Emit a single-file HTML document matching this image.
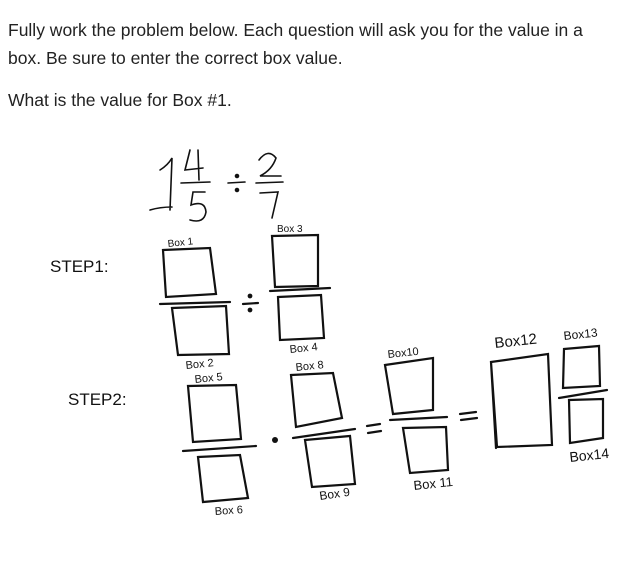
<!DOCTYPE html>
<html><head><style>
body{margin:0;background:#fff;width:630px;height:570px;overflow:hidden;font-family:"Liberation Sans",sans-serif;}
.t{position:absolute;left:8px;font-size:17.5px;color:#222;line-height:28px;white-space:nowrap;}
</style></head><body>
<div class="t" style="top:16px">Fully work the problem below. Each question will ask you for the value in a<br>box. Be sure to enter the correct box value.</div>
<div class="t" style="top:86px">What is the value for Box #1.</div>
<svg width="630" height="570" style="position:absolute;left:0;top:0" fill="none" stroke="#111" stroke-width="2.2" stroke-linecap="round">
<g font-family="Liberation Sans,sans-serif" fill="#111" stroke="none">
<text x="50" y="272" font-size="17">STEP1:</text>
<text x="68" y="405" font-size="17">STEP2:</text>
<text x="168" y="247" font-size="10" transform="rotate(-6 168 247)">Box 1</text>
<text x="277" y="232" font-size="10">Box 3</text>
<text x="186" y="369" font-size="11" transform="rotate(-6 186 369)">Box 2</text>
<text x="290" y="353" font-size="11" transform="rotate(-6 290 353)">Box 4</text>
<text x="195" y="383" font-size="11" transform="rotate(-6 195 383)">Box 5</text>
<text x="296" y="371" font-size="11" transform="rotate(-6 296 371)">Box 8</text>
<text x="388" y="358" font-size="11" transform="rotate(-6 388 358)">Box10</text>
<text x="495" y="348" font-size="15" transform="rotate(-6 495 348)">Box12</text>
<text x="564" y="340" font-size="12" transform="rotate(-6 564 340)">Box13</text>
<text x="570" y="462" font-size="14" transform="rotate(-6 570 462)">Box14</text>
<text x="414" y="490" font-size="13" transform="rotate(-6 414 490)">Box 11</text>
<text x="320" y="500" font-size="12" transform="rotate(-8 320 500)">Box 9</text>
<text x="215" y="515" font-size="11" transform="rotate(-4 215 515)">Box 6</text>
</g>
<path d="M160 170 Q168 165 172 158 L170 210 M150 210 Q160 207 172 207" stroke-width="1.6"/>
<path d="M190 150 L185 170 L203 168 M198 150 L199 180" stroke-width="1.6"/>
<path d="M181 183 L210 182" stroke-width="1.6"/>
<path d="M205 192 L193 192 L191 205 Q205 200 206 212 Q204 224 190 220" stroke-width="1.6"/>
<path d="M228 183 L245 182" stroke-width="1.6"/><circle cx="237" cy="176" r="1.2" fill="#111"/><circle cx="237" cy="190" r="1.2" fill="#111"/>
<path d="M259 160 Q268 148 276 158 Q272 170 260 176 L281 176" stroke-width="1.6"/>
<path d="M256 183 L283 182" stroke-width="1.6"/>
<path d="M260 193 L278 192 L272 218" stroke-width="1.6"/>
<path d="M163 250 L210 248 L216 294 L166 297 Z"/>
<path d="M160 304 L230 302"/>
<path d="M172 308 L226 306 L229 354 L178 355 Z"/>
<path d="M243 304 L258 303"/><circle cx="250" cy="296" r="1.3" fill="#111"/><circle cx="250" cy="310" r="1.3" fill="#111"/>
<path d="M272 236 L318 235 L318 286 L275 287 Z"/>
<path d="M270 291 L330 288"/>
<path d="M278 297 L321 295 L324 338 L280 340 Z"/>
<path d="M188 386 L236 385 L241 439 L193 442 Z"/>
<path d="M183 451 L256 446"/>
<path d="M198 457 L240 455 L248 498 L203 502 Z"/>
<circle cx="275" cy="440" r="3" fill="#111" stroke="none"/>
<path d="M291 375 L333 373 L342 418 L296 427 Z"/>
<path d="M293 438 L355 429"/>
<path d="M305 440 L350 436 L355 484 L312 487 Z"/>
<path d="M367 426 L380 424 M368 433 L381 431"/>
<path d="M385 365 L433 358 L433 410 L393 414 Z"/>
<path d="M390 420 L447 417"/>
<path d="M403 428 L446 427 L448 470 L410 473 Z"/>
<path d="M460 414 L476 412 M461 420 L477 418"/>
<path d="M491 362 L548 354 L552 445 L497 447 Z M491 362 L496 448"/>
<path d="M564 349 L599 346 L600 386 L563 388 Z"/>
<path d="M559 398 L607 390"/>
<path d="M569 400 L603 399 L603 438 L570 443 Z"/>
</svg>
</body></html>
